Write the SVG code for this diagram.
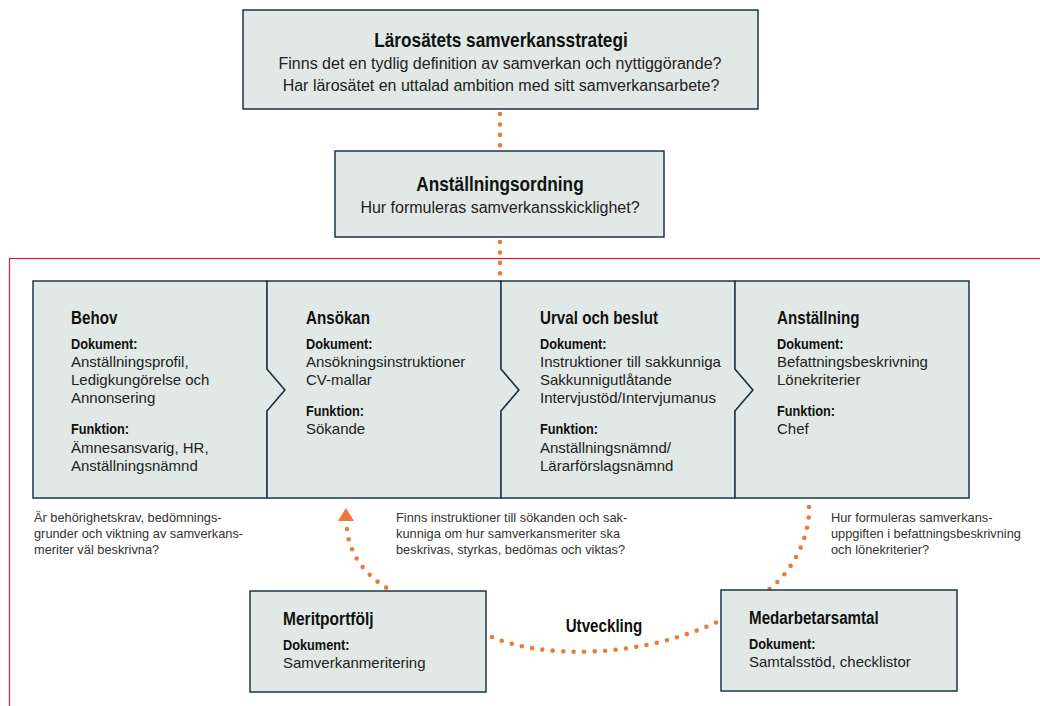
<svg xmlns="http://www.w3.org/2000/svg" width="1040" height="706" viewBox="0 0 1040 706">
<style>
.box{fill:#e0e9e5;stroke:#1f3547;stroke-width:1.5}
.t1{font-family:"Liberation Sans",Arial,sans-serif;font-weight:bold;font-size:21px;fill:#111}
.t2{font-family:"Liberation Sans",Arial,sans-serif;font-weight:bold;font-size:18.5px;fill:#111}
.lbl{font-family:"Liberation Sans",Arial,sans-serif;font-weight:bold;font-size:15px;fill:#111}
.body{font-family:"Liberation Sans",Arial,sans-serif;font-size:15px;fill:#222}
.bodyL{font-family:"Liberation Sans",Arial,sans-serif;font-size:16px;fill:#222}
.small{font-family:"Liberation Sans",Arial,sans-serif;font-size:12.8px;fill:#333}
.mid{text-anchor:middle}
.dots{fill:none;stroke:#eb7b37;stroke-width:4.6;stroke-linecap:round;stroke-dasharray:0 10.45}
</style>
<rect x="9.5" y="258.5" width="1100" height="500" fill="none" stroke="#d41f36" stroke-width="1.2"/>
<g id="connectors">
<line class="dots" x1="500" y1="114" x2="500" y2="145.4"/>
<line class="dots" x1="500" y1="242" x2="500" y2="273.4"/>
<path class="dots" d="M347,529 C349,553 364,575 390,590"/>
<polygon points="346,508 338,521 354,521" fill="#eb7b37"/>
<path class="dots" d="M492,637 C540,658 640,660 721,620"/>
<path class="dots" d="M809,507 C810,535 795,570 766,592"/>
<text class="t2 mid" transform="translate(604,632) scale(0.82,1)" font-size="20">Utveckling</text>
</g>
<g id="strategi">
<rect class="box" x="243" y="10" width="515" height="99"/>
<text class="t1 mid" transform="translate(501,47) scale(0.82,1)">Lärosätets samverkansstrategi</text>
<text class="bodyL mid" x="500" y="69">Finns det en tydlig definition av samverkan och nyttiggörande?</text>
<text class="bodyL mid" x="501" y="91">Har lärosätet en uttalad ambition med sitt samverkansarbete?</text>
</g>
<g id="anstallningsordning">
<rect class="box" x="335" y="151" width="329" height="86"/>
<text class="t1 mid" transform="translate(500,191) scale(0.82,1)">Anställningsordning</text>
<text class="bodyL mid" x="500" y="213">Hur formuleras samverkansskicklighet?</text>
</g>
<g id="behov">
<polygon class="box" points="33,281 267,281 267,369 285,390 267,411 267,498 33,498"/>
<text class="t2" transform="translate(71,324) scale(0.82,1)">Behov</text>
<text class="lbl" transform="translate(71,349) scale(0.85,1)">Dokument:</text>
<text class="body" x="71" y="367">Anställningsprofil,</text>
<text class="body" x="71" y="385">Ledigkungörelse och</text>
<text class="body" x="71" y="403">Annonsering</text>
<text class="lbl" transform="translate(71,434) scale(0.85,1)">Funktion:</text>
<text class="body" x="71" y="453">Ämnesansvarig, HR,</text>
<text class="body" x="71" y="471">Anställningsnämnd</text>
</g>
<g id="ansokan">
<polygon class="box" points="267,281 501,281 501,369 519,390 501,411 501,498 267,498 267,411 285,390 267,369"/>
<text class="t2" transform="translate(306,324) scale(0.82,1)">Ansökan</text>
<text class="lbl" transform="translate(306,349) scale(0.85,1)">Dokument:</text>
<text class="body" x="306" y="367">Ansökningsinstruktioner</text>
<text class="body" x="306" y="385">CV-mallar</text>
<text class="lbl" transform="translate(306,416) scale(0.85,1)">Funktion:</text>
<text class="body" x="306" y="434">Sökande</text>
</g>
<g id="urval">
<polygon class="box" points="501,281 735,281 735,369 753,390 735,411 735,498 501,498 501,411 519,390 501,369"/>
<text class="t2" transform="translate(540,324) scale(0.82,1)">Urval och beslut</text>
<text class="lbl" transform="translate(540,349) scale(0.85,1)">Dokument:</text>
<text class="body" x="540" y="367">Instruktioner till sakkunniga</text>
<text class="body" x="540" y="385">Sakkunnigutlåtande</text>
<text class="body" x="540" y="403">Intervjustöd/Intervjumanus</text>
<text class="lbl" transform="translate(540,434) scale(0.85,1)">Funktion:</text>
<text class="body" x="540" y="453">Anställningsnämnd/</text>
<text class="body" x="540" y="471">Lärarförslagsnämnd</text>
</g>
<g id="anstallning">
<polygon class="box" points="735,281 969,281 969,498 735,498 735,411 753,390 735,369"/>
<text class="t2" transform="translate(777,324) scale(0.82,1)">Anställning</text>
<text class="lbl" transform="translate(777,349) scale(0.85,1)">Dokument:</text>
<text class="body" x="777" y="367">Befattningsbeskrivning</text>
<text class="body" x="777" y="385">Lönekriterier</text>
<text class="lbl" transform="translate(777,416) scale(0.85,1)">Funktion:</text>
<text class="body" x="777" y="434">Chef</text>
</g>
<g id="fraga-behov">
<text class="small" x="34" y="522">Är behörighetskrav, bedömnings-</text>
<text class="small" x="34" y="538">grunder och viktning av samverkans-</text>
<text class="small" x="34" y="554">meriter väl beskrivna?</text>
</g>
<g id="fraga-ansokan">
<text class="small" x="396" y="522">Finns instruktioner till sökanden och sak-</text>
<text class="small" x="396" y="538">kunniga om hur samverkansmeriter ska</text>
<text class="small" x="396" y="554">beskrivas, styrkas, bedömas och viktas?</text>
</g>
<g id="fraga-anstallning">
<text class="small" x="831" y="522">Hur formuleras samverkans-</text>
<text class="small" x="831" y="538">uppgiften i befattningsbeskrivning</text>
<text class="small" x="831" y="554">och lönekriterier?</text>
</g>
<g id="meritportfolj">
<rect class="box" x="250" y="591" width="236" height="101"/>
<text class="t2" transform="translate(283,625) scale(0.84,1)">Meritportfölj</text>
<text class="lbl" transform="translate(283,650) scale(0.85,1)">Dokument:</text>
<text class="body" x="283" y="668">Samverkanmeritering</text>
</g>
<g id="medarbetarsamtal">
<rect class="box" x="721" y="590" width="236" height="101"/>
<text class="t2" transform="translate(749,624) scale(0.82,1)">Medarbetarsamtal</text>
<text class="lbl" transform="translate(749,649) scale(0.85,1)">Dokument:</text>
<text class="body" x="749" y="667">Samtalsstöd, checklistor</text>
</g>
</svg>
